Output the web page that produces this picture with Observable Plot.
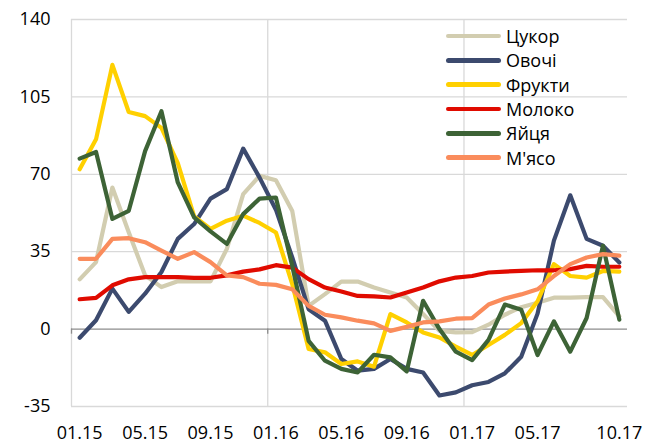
<!DOCTYPE html>
<html>
<head>
<meta charset="utf-8">
<script src="https://cdn.jsdelivr.net/npm/d3@7"></script>
<script src="https://cdn.jsdelivr.net/npm/@observablehq/plot@0.6"></script>
<style>
  html, body { margin: 0; padding: 0; background: #fff; }
  #wrap { position: relative; width: 659px; height: 444px; font-family: "Open Sans", sans-serif; }
  #legend { position: absolute; left: 446px; top: 24px; }
  .row { display: flex; align-items: center; height: 24.3px; }
  .sw { width: 55px; height: 4.5px; border-radius: 3px; margin-right: 5px; }
  .lab { font-size: 18px; color: #000; line-height: 24px; }
</style>
</head>
<body>
<div id="wrap"><div id="legend"></div></div>
<script>
// Categories (months)
const months = ["01.15","02.15","03.15","04.15","05.15","06.15","07.15","08.15","09.15","10.15","11.15","12.15",
                "01.16","02.16","03.16","04.16","05.16","06.16","07.16","08.16","09.16","10.16","11.16","12.16",
                "01.17","02.17","03.17","04.17","05.17","06.17","07.17","08.17","09.17","10.17"];
const xTickLabels = ["01.15","05.15","09.15","01.16","05.16","09.16","01.17","05.17","10.17"];
const yTicks = [-35, 0, 35, 70, 105, 140];

const seriesNames = ["Цукор","Овочі","Фрукти","Молоко","Яйця","М'ясо"];
const seriesColors = ["#D2CDB0","#3C4A6E","#FFD000","#E00B00","#3D6336","#FA8C5C"];

const sugar = [22.5,30.3,64,43.8,24.3,19,21.6,21.6,21.6,36.3,61,69.3,67.3,53.4,10.5,15.8,21.5,21.5,18.8,16.6,14.3,6.8,-0.8,-1.5,-1.4,2,6.5,9.9,11.9,14.2,14.2,14.5,14.5,5.8];
const vegetables = [-3.9,4,18.3,7.8,16,25.8,40.8,47.5,59,63.3,81.6,68.5,54,32.4,9,3.8,-13.5,-18.8,-18,-13.5,-18,-19.6,-30,-28.6,-25.4,-23.9,-20,-12.5,7,40,60.5,40.8,37.7,30.1];
const fruits = [72.3,85.8,119.5,98.2,96.3,91,75,51,45.3,49,51.3,48,43.7,20.3,-9,-10.5,-15.8,-14.6,-17,6.8,3,-1.5,-3.8,-7.9,-11.7,-7.2,-2.6,2.7,12.6,29.4,24,23.3,26.3,26];
const milk = [13.5,14.1,19.8,22.5,23.5,23.5,23.5,23.2,23.2,24.3,26,27,28.9,27.8,22.6,18.8,17,15,14.8,14.3,16.6,18.8,21.6,23.3,24,25.6,26,26.3,26.6,26.6,27.1,28.6,28.2,28.2];
const eggs = [77.1,80.1,49.8,53.5,80.5,98.5,66.3,50.5,44.2,38.5,52,59,59.5,28.5,-5.3,-14.3,-18,-19.6,-11.6,-12.8,-19.1,12.8,0,-10.2,-14,-4.9,11.1,8.8,-11.7,3.5,-10.2,5,37.7,4.3];
const meat = [31.8,31.8,40.8,41.1,39.3,35.5,31.8,34.8,30.3,24.3,23.5,20.5,20,18,10.5,6.5,5.3,3.8,2.6,-0.8,1,3,3.5,4.7,5,11.1,13.8,15.7,18,24,29.4,32.4,33.9,33.2];

const seriesValues = [sugar, vegetables, fruits, milk, eggs, meat];
const data = seriesNames.flatMap((name, s) =>
  seriesValues[s].map((v, i) => ({series: name, i, month: months[i], v})));

const tickIdx = xTickLabels.map(l => months.indexOf(l));
const yearBounds = [-0.5, 11.5, 23.5];

const chart = Plot.plot({
  width: 659,
  height: 444,
  marginLeft: 71,
  marginRight: 32,
  marginTop: 19,
  marginBottom: 38,
  style: {fontFamily: "'Open Sans', sans-serif", fontSize: "18px", color: "#000", background: "#fff", overflow: "visible"},
  x: {domain: [-0.5, 33.5], axis: null, label: null},
  y: {domain: [-35, 140], axis: null, label: null},
  color: {domain: seriesNames, range: seriesColors},
  marks: [
    Plot.ruleY(yTicks.filter(d => d !== 0), {stroke: "#d9d9d9", strokeWidth: 1.3}),
    Plot.ruleX(yearBounds, {stroke: "#d9d9d9", strokeWidth: 1.3}),
    Plot.ruleY([0], {stroke: "#8c8c8c", strokeWidth: 1.3}),
    Plot.ruleX(yearBounds, {y1: 0, y2: -2.3, stroke: "#8c8c8c", strokeWidth: 1.3}),
    Plot.axisY(yTicks, {tickSize: 0, tickPadding: 21, fontSize: 18, label: null, tickFormat: d => String(d)}),
    Plot.axisX(tickIdx, {tickSize: 0, tickPadding: 20, fontSize: 18, label: null, tickFormat: i => months[i]}),
    Plot.line(data, {x: "i", y: "v", z: "series", stroke: "series", strokeWidth: 4.2,
                     strokeLinejoin: "round", strokeLinecap: "round"})
  ]
});
document.getElementById("wrap").prepend(chart);

const legend = document.getElementById("legend");
seriesNames.forEach((name, k) => {
  const row = document.createElement("div");
  row.className = "row";
  row.innerHTML = `<div class="sw" style="background:${seriesColors[k]}"></div><span class="lab">${name}</span>`;
  legend.appendChild(row);
});
</script>
</body>
</html>
